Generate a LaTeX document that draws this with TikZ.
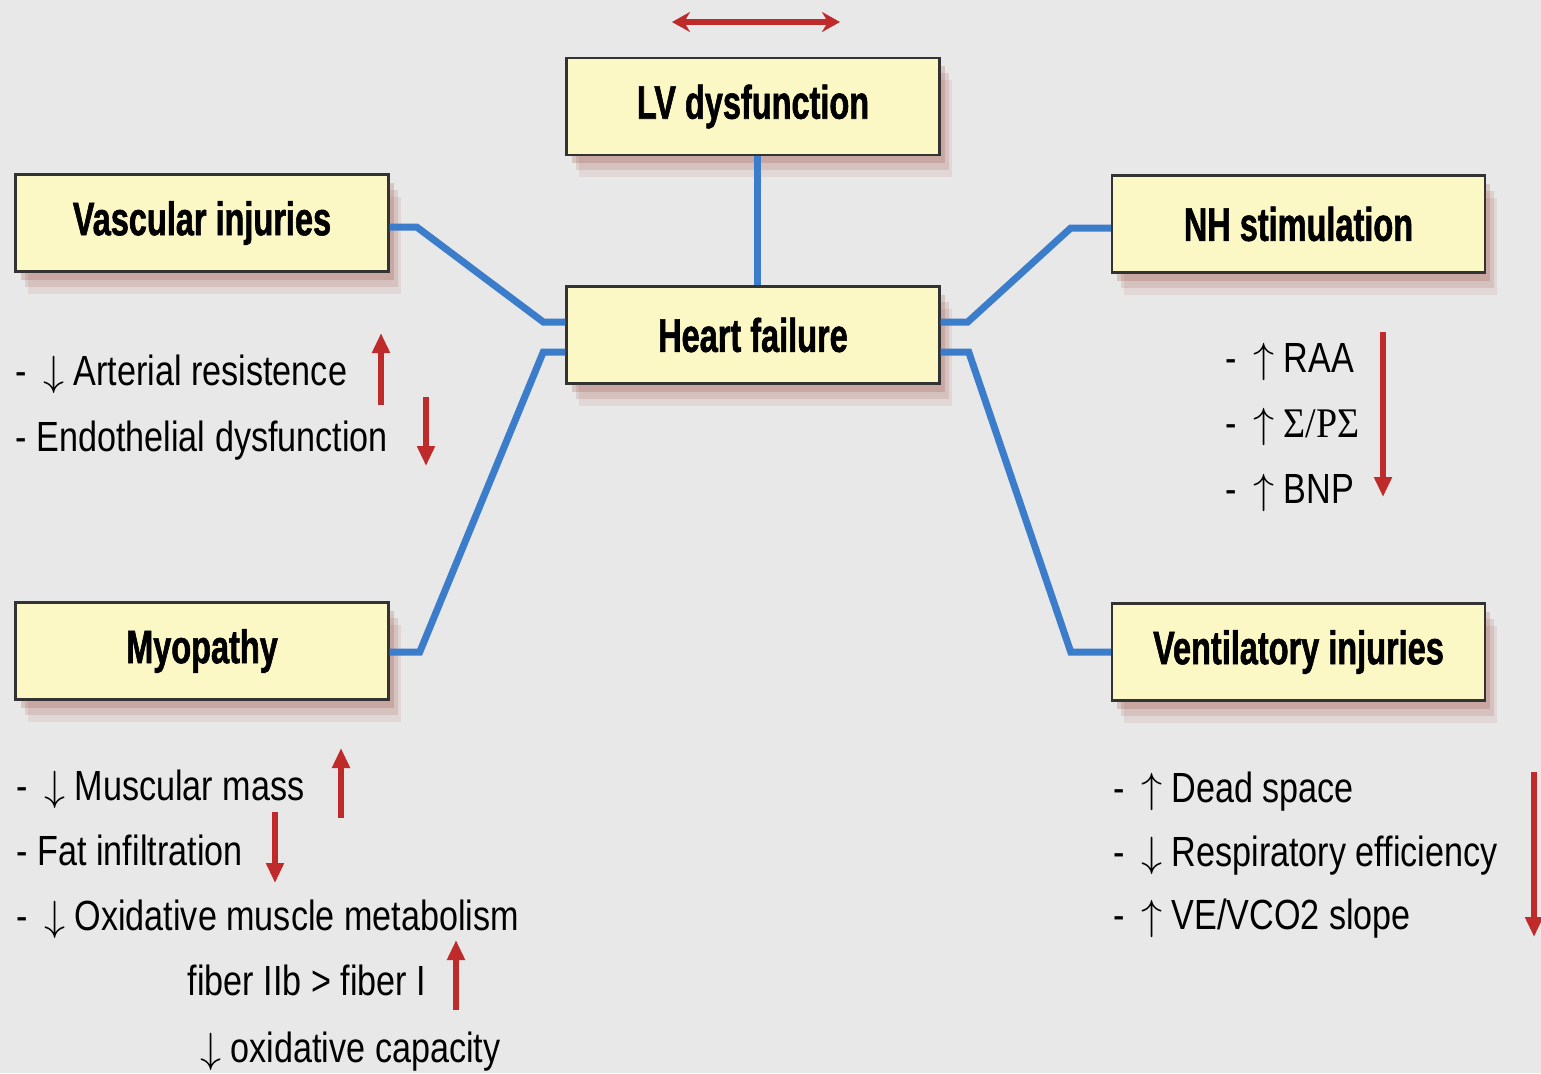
\documentclass[tikz,border=0pt]{standalone}
\usepackage{fontspec}
\setmainfont{Liberation Sans}[FakeStretch=0.81]
\newfontfamily\titlefont{Liberation Sans}[FakeStretch=0.69, FakeBold=1.2]
\newfontfamily\greekfont{Liberation Serif}[FakeStretch=0.9]
\usetikzlibrary{arrows.meta, positioning, shadows}
\definecolor{bgcol}{HTML}{E8E8E8}
\definecolor{boxfill}{HTML}{FCF8C6}
\definecolor{boxline}{HTML}{333333}
\definecolor{linkblue}{HTML}{3B7DCB}
\definecolor{arrred}{HTML}{BF2A2A}
\definecolor{shadowcol}{HTML}{9C4A3A}
\newcommand{\up}{$\uparrow$\hspace{0.09cm}}
\newcommand{\dn}{$\downarrow$\hspace{0.09cm}}
\tikzset{
    boxshadow/.style={
        general shadow={fill=shadowcol, opacity=0.10, shadow xshift=0.12cm, shadow yshift=-0.22cm},
        general shadow={fill=shadowcol, opacity=0.15, shadow xshift=0.09cm, shadow yshift=-0.15cm},
        general shadow={fill=shadowcol, opacity=0.22, shadow xshift=0.05cm, shadow yshift=-0.08cm}
    },
    box/.style={
        rectangle,
        draw=boxline,
        line width=0.7pt,
        fill=boxfill,
        minimum width=3.73cm,
        minimum height=0.97cm,
        inner sep=0pt,
        align=center,
        boxshadow,
        font=\titlefont\bfseries\fontsize{13.4}{16}\selectfont
    },
    link/.style={
        draw=linkblue,
        line width=0.07cm
    },
    txt/.style={
        anchor=base west,
        inner sep=0pt,
        font=\fontsize{12}{14}\selectfont
    },
    redarrow/.style={
        draw=arrred,
        line width=0.06cm,
        -{Triangle[width=0.17cm,length=0.2cm]}
    },
    twoway/.style={
        draw=arrred,
        line width=0.055cm,
        {Stealth[width=0.2cm,length=0.18cm]}-{Stealth[width=0.2cm,length=0.18cm]}
    }
}

\begin{document}
\begin{tikzpicture}

    % Background
    \fill[bgcol] (0,0) rectangle (15.41,-10.73);
    \useasboundingbox (0,0) rectangle (15.41,-10.73);

    % Boxes
    \node[box] (hf) at (7.53,-3.35) {Heart failure};
    \node[box, above=1.29cm of hf] (lv) {LV dysfunction};
    \node[box] (vasc) at (2.02,-2.23) {Vascular injuries};
    \node[box] (nh) at (12.985,-2.24) {NH stimulation};
    \node[box] (myo) at (2.02,-6.51) {Myopathy};
    \node[box] (vent) at (12.985,-6.52) {Ventilatory injuries};

    % Top arrow
    \draw[twoway] (6.72,-0.22) -- (8.40,-0.22);

    % Links
    \draw[link] ([xshift=0.04cm]lv.south) -- ([xshift=0.04cm]hf.north);
    \draw[link] ([yshift=-0.04cm]vasc.east) -- ++(0.27,0)
        -- ([xshift=-0.22cm,yshift=0.13cm]hf.west) -- ([yshift=0.13cm]hf.west);
    \draw[link] ([yshift=-0.01cm]myo.east) -- ++(0.30,0)
        -- ([xshift=-0.22cm,yshift=-0.17cm]hf.west) -- ([yshift=-0.17cm]hf.west);
    \draw[link] ([yshift=-0.04cm]nh.west) -- ++(-0.40,0)
        -- ([xshift=0.27cm,yshift=0.13cm]hf.east) -- ([yshift=0.13cm]hf.east);
    \draw[link] (vent.west) -- ++(-0.40,0)
        -- ([xshift=0.28cm,yshift=-0.17cm]hf.east) -- ([yshift=-0.17cm]hf.east);

    % Vascular injuries
    \node[txt] (ar) at (0.15,-3.85) {- \,\dn Arterial resistence};
    \node[txt] (en) at (0.15,-4.51) {- Endothelial dysfunction};
    \draw[redarrow] (3.81,-4.05) -- (3.81,-3.33);
    \draw[redarrow] (4.26,-3.97) -- (4.26,-4.66);

    % NH stimulation
    \node[txt] (raa) at (12.25,-3.72) {- \,\up RAA};
    \node[txt] (sps) at (12.25,-4.37) {- \,\up {\greekfont Σ/PΣ}};
    \node[txt] (bnp) at (12.25,-5.03) {- \,\up BNP};
    \draw[redarrow] (13.83,-3.32) -- (13.83,-4.97);

    % Myopathy
    \node[txt] (mm) at (0.16,-8.00) {- \,\dn Muscular mass};
    \node[txt] (fi) at (0.16,-8.65) {- Fat infiltration};
    \node[txt] (om) at (0.16,-9.30) {- \,\dn Oxidative muscle metabolism};
    \node[txt] (fb) at (1.87,-9.95) {fiber IIb > fiber I};
    \node[txt] (oc) at (2.00,-10.62) {\dn oxidative capacity};
    \draw[redarrow] (3.41,-8.18) -- (3.41,-7.48);
    \draw[redarrow] (2.75,-8.12) -- (2.75,-8.83);
    \draw[redarrow] (4.56,-10.10) -- (4.56,-9.40);

    % Ventilatory injuries
    \node[txt] (ds) at (11.13,-8.02) {- \,\up Dead space};
    \node[txt] (re) at (11.13,-8.66) {- \,\dn Respiratory efficiency};
    \node[txt] (ve) at (11.13,-9.29) {- \,\up VE/VCO2 slope};
    \draw[redarrow] (15.34,-7.72) -- (15.34,-9.37);

\end{tikzpicture}
\end{document}
